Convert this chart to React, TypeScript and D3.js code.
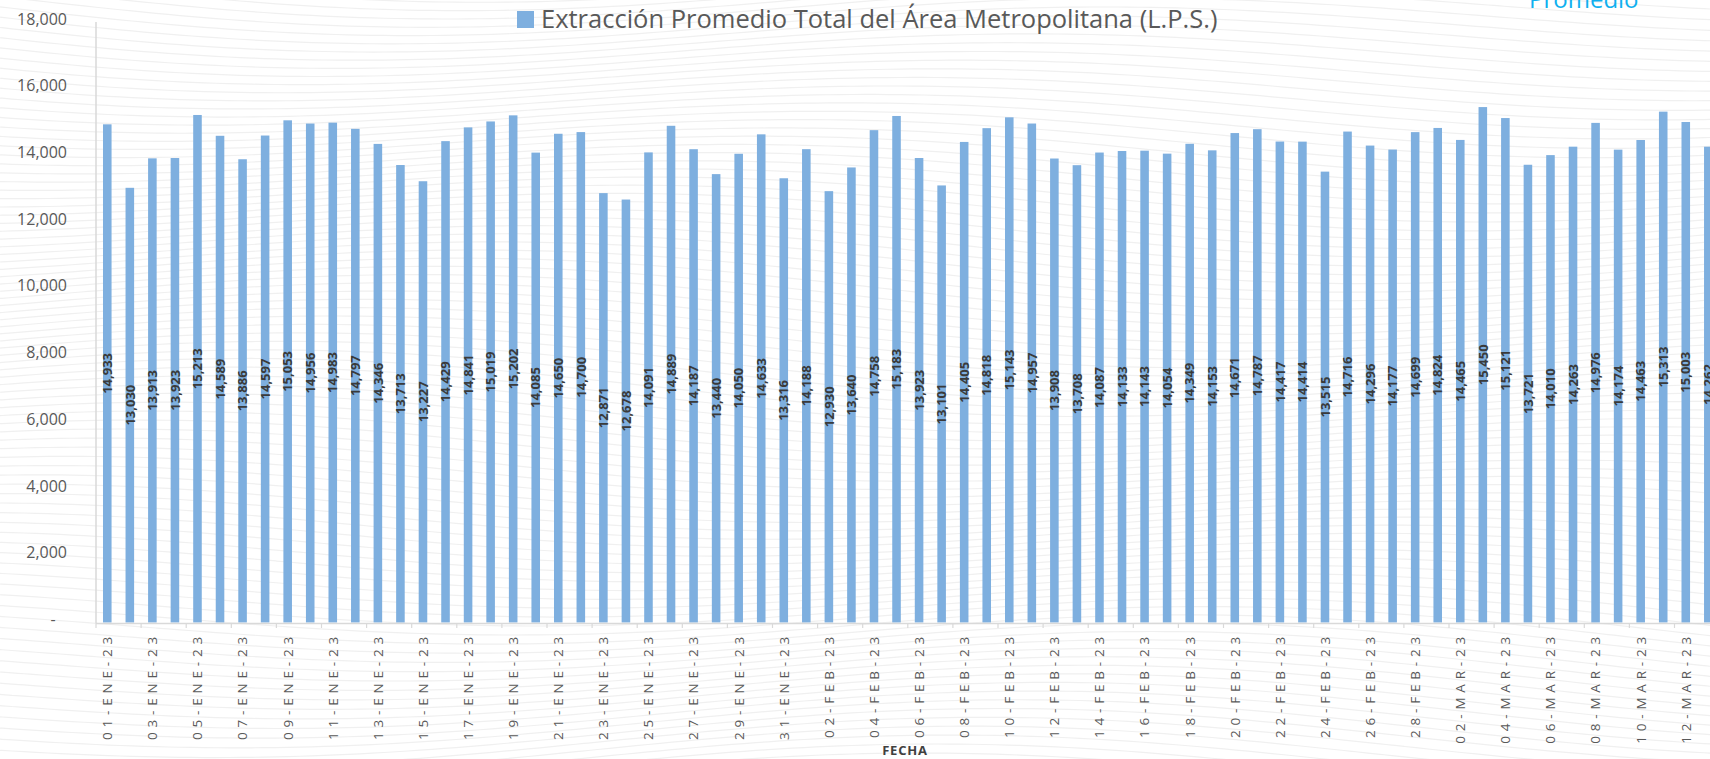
import React, { useEffect, useRef } from "react";
import * as d3 from "d3";

const W = 1710;
const H = 759;

const months = ["ENE", "FEB", "MAR"];
const year = "23";

const eneValues = [
  14933, 13030, 13913, 13923, 15213, 14589, 13886, 14597, 15053, 14956, 14983,
  14797, 14346, 13713, 13227, 14429, 14841, 15019, 15202, 14085, 14650, 14700,
  12871, 12678, 14091, 14889, 14187, 13440, 14050, 14633, 13316,
];
const febValues = [
  14188, 12930, 13640, 14758, 15183, 13923, 13101, 14405, 14818, 15143, 14957,
  13908, 13708, 14087, 14133, 14143, 14054, 14349, 14153, 14671, 14787, 14417,
  14414, 13515, 14716, 14296, 14177, 14699,
];
const marValues = [
  14824, 14465, 15450, 15121, 13721, 14010, 14263, 14976, 14174, 14463, 15313,
  15003, 14262,
];
const monthValues = [eneValues, febValues, marValues];

const yTicks = [0, 2000, 4000, 6000, 8000, 10000, 12000, 14000, 16000, 18000];
const title = "Extracción Promedio Total del Área Metropolitana (L.P.S.)";
const xTitle = "FECHA";
const cornerLabel = "Promedio";

const FONT = "'Open Sans', 'DejaVu Sans', sans-serif";
const BAR = "#7eafdf";

export default function App() {
  const ref = useRef<SVGSVGElement>(null);

  useEffect(() => {
    const svg = d3.select(ref.current);
    svg.selectAll("*").remove();

    const data = months.flatMap((m, mi) =>
      monthValues[mi].map((v, i) => ({
        label: `${String(i + 1).padStart(2, "0")}-${m}-${year}`,
        value: v,
      }))
    );

    const left = 96;
    const step = 22.55;
    const x = d3
      .scaleBand<string>()
      .domain(data.map((d) => d.label))
      .range([left, left + step * data.length])
      .paddingInner(0.62)
      .paddingOuter(0.31);
    const y = d3.scaleLinear().domain([0, 18000]).range([622.5, 22]);

    // decorative wavy background
    const bg = svg.append("g");
    const xs = d3.range(0, W + 20, 12);
    const waveLine = d3
      .line<number>()
      .x((d) => d)
      .curve(d3.curveBasis);
    d3.range(-120, H + 120, 9).forEach((y0) => {
      bg.append("path")
        .attr(
          "d",
          waveLine.y(
            (xx) =>
              y0 +
              22 * Math.sin(xx / 240 + y0 / 110) +
              14 * Math.sin(xx / 650 - y0 / 260)
          )(xs)
        )
        .attr("fill", "none")
        .attr("stroke", "#f0f0f0")
        .attr("stroke-width", 1.2);
    });

    // y axis line
    svg
      .append("line")
      .attr("x1", left)
      .attr("x2", left)
      .attr("y1", y(18000))
      .attr("y2", y(0) + 1)
      .attr("stroke", "#d9d9d9")
      .attr("stroke-width", 1.5);

    // y tick labels
    svg
      .append("g")
      .selectAll("text")
      .data(yTicks)
      .join("text")
      .attr("x", (d) => (d === 0 ? 53 : 67))
      .attr("y", (d) => y(d) - 3)
      .attr("dy", "0.35em")
      .attr("text-anchor", (d) => (d === 0 ? "middle" : "end"))
      .attr("font-family", FONT)
      .attr("font-size", 16)
      .attr("fill", "#595959")
      .text((d) => (d === 0 ? "-" : d3.format(",")(d)));

    // bars
    svg
      .append("g")
      .selectAll("rect")
      .data(data)
      .join("rect")
      .attr("x", (d) => x(d.label)!)
      .attr("width", x.bandwidth())
      .attr("y", (d) => y(d.value))
      .attr("height", (d) => y(0) - y(d.value))
      .attr("fill", BAR);

    // x axis line
    svg
      .append("line")
      .attr("x1", left)
      .attr("x2", W)
      .attr("y1", y(0) + 1)
      .attr("y2", y(0) + 1)
      .attr("stroke", "#d9d9d9")
      .attr("stroke-width", 1.5);

    // ticks every 2 categories at boundaries
    const tickIdx = d3.range(0, data.length + 1, 2);
    svg
      .append("g")
      .selectAll("line")
      .data(tickIdx)
      .join("line")
      .attr("x1", (i) => left + i * x.step())
      .attr("x2", (i) => left + i * x.step())
      .attr("y1", y(0) + 1)
      .attr("y2", y(0) + 5.5)
      .attr("stroke", "#d9d9d9")
      .attr("stroke-width", 1.2);

    // x tick labels
    svg
      .append("g")
      .selectAll("text")
      .data(data.filter((_, i) => i % 2 === 0))
      .join("text")
      .attr(
        "transform",
        (d) => `translate(${x(d.label)! + x.bandwidth() / 2},${632}) rotate(-90)`
      )
      .attr("text-anchor", "end")
      .attr("dy", "0.36em")
      .attr("font-family", FONT)
      .attr("font-size", 13.5)
      .attr("font-weight", 400)
      .attr("letter-spacing", 4.8)
      .attr("fill", "#595959")
      .text((d) => d.label);

    // data labels
    svg
      .append("g")
      .selectAll("text")
      .data(data)
      .join("text")
      .attr(
        "transform",
        (d) =>
          `translate(${x(d.label)! + x.bandwidth() / 2},${y(d.value / 2)}) rotate(-90)`
      )
      .attr("text-anchor", "middle")
      .attr("dy", "0.36em")
      .attr("font-family", FONT)
      .attr("font-size", 13)
      .attr("font-weight", 700)
      .attr("fill", "#3a3a3a")
      .text((d) => d3.format(",")(d.value));

    // axis title
    svg
      .append("text")
      .attr("x", 905)
      .attr("y", 755)
      .attr("text-anchor", "middle")
      .attr("font-family", FONT)
      .attr("font-size", 13)
      .attr("font-weight", 700)
      .attr("letter-spacing", 0.8)
      .attr("fill", "#404040")
      .text(xTitle);

    // legend / title
    svg
      .append("rect")
      .attr("x", 517)
      .attr("y", 11)
      .attr("width", 17)
      .attr("height", 17)
      .attr("fill", BAR);
    svg
      .append("text")
      .attr("x", 541)
      .attr("y", 28)
      .attr("font-family", FONT)
      .attr("font-size", 25.5)
      .attr("fill", "#595959")
      .text(title);

    // clipped corner label
    svg
      .append("text")
      .attr("x", 1529)
      .attr("y", 8)
      .attr("font-family", FONT)
      .attr("font-size", 24)
      .attr("fill", "#10b0ef")
      .text(cornerLabel);
  }, []);

  return (
    <svg
      ref={ref}
      width={W}
      height={H}
      style={{ position: "absolute", left: 0, top: 0, display: "block", background: "#fff" }}
    />
  );
}
